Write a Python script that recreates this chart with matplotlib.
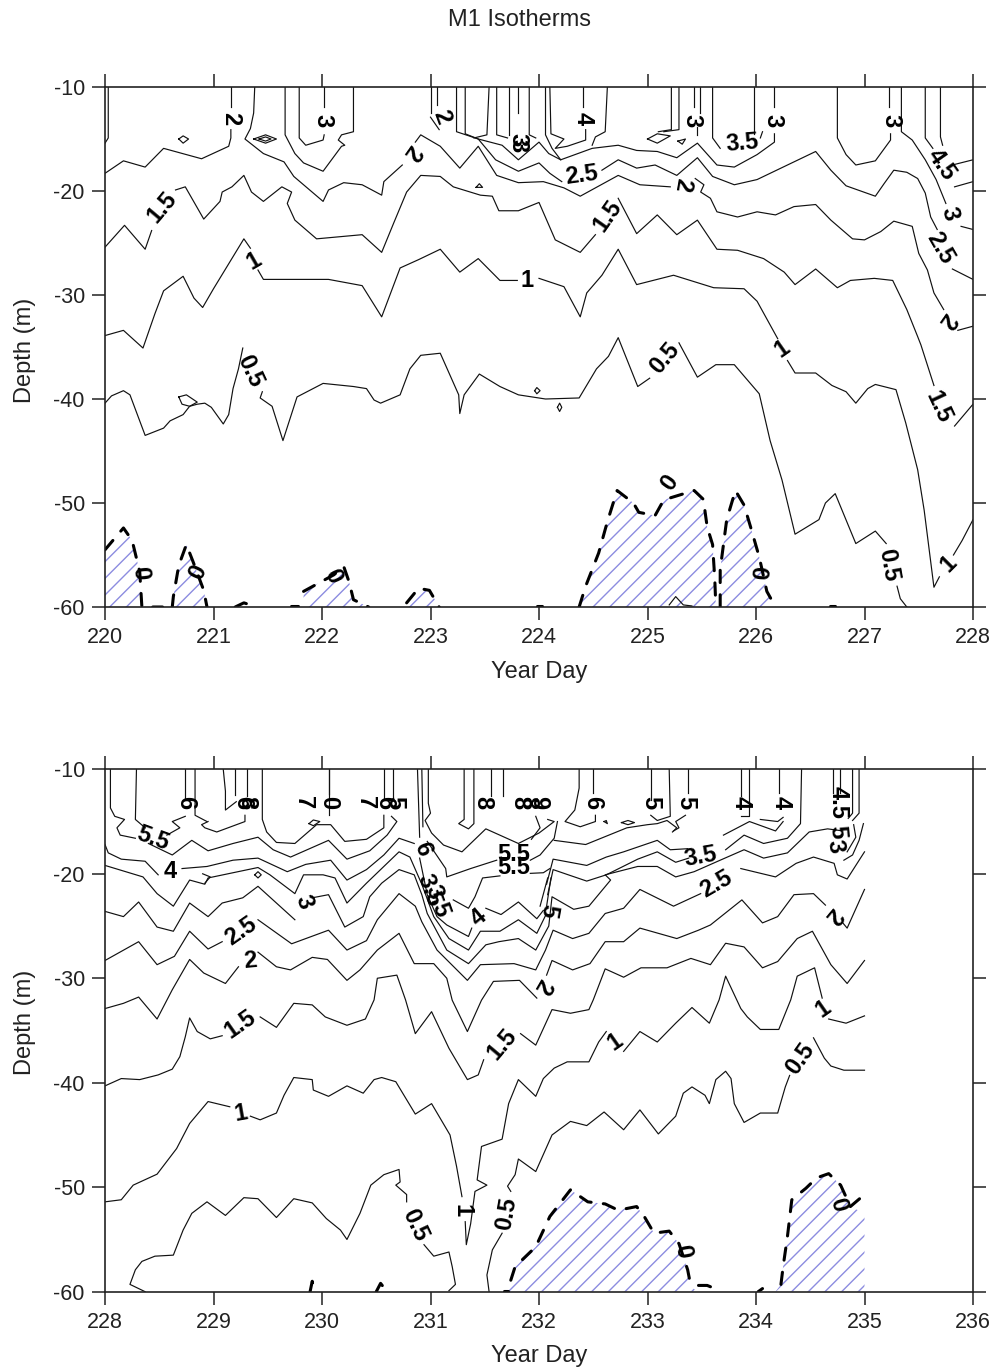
import matplotlib
matplotlib.use('Agg')
import matplotlib.pyplot as plt

plt.rcParams['font.family'] = ['Liberation Sans', 'DejaVu Sans']
plt.rcParams['axes.unicode_minus'] = False

# isotherm pieces as (year day, depth)
top_lines = [
    # 0.5
    [(220,-40.4),(220.06,-39.7),(220.17,-39.2),(220.23,-39.6),(220.37,-43.5),(220.54,-42.8),(220.6,-42.1),(220.72,-41.5),(220.78,-40.7),(220.85,-40.5),(220.92,-40.4),(220.98,-40.8),(221.09,-42.4),(221.14,-41.5),(221.18,-39),(221.23,-37.1),(221.27,-35.1)],
    [(221.45,-39.3),(221.43,-39.9),(221.54,-40.7),(221.64,-44),(221.77,-39.8),(222.01,-38.5),(222.29,-38.8),(222.41,-39),(222.48,-40.1),(222.54,-40.4),(222.72,-39.6),(222.81,-37.1),(222.91,-35.8),(223.09,-35.6),(223.26,-39.6),(223.27,-41.4),(223.31,-39.6),(223.45,-37.6),(223.64,-38.8),(223.81,-39.6),(224.06,-40),(224.37,-39.9),(224.53,-37.1),(224.64,-35.9),(224.73,-34.1),(224.91,-38.8),(225.02,-38)],
    [(225.29,-34.6),(225.46,-37.9),(225.63,-36.7),(225.8,-36.7),(226.03,-39.5),(226.13,-44),(226.24,-47.8),(226.36,-53),(226.58,-51.6),(226.64,-50),(226.73,-49.1),(226.92,-53.9),(227.1,-52.7),(227.2,-53.9)],
    [(227.3,-58),(227.33,-59.2),(227.39,-60)],
    # 1
    [(220,-33.9),(220.17,-33.4),(220.35,-35.1),(220.46,-31.8),(220.54,-29.6),(220.72,-28.2),(220.82,-30.3),(220.9,-31.2),(221,-29.4),(221.28,-24.6),(221.34,-25.5)],
    [(221.41,-27.6),(221.46,-28.5),(221.74,-28.5),(222.06,-28.5),(222.37,-29.1),(222.55,-32.1),(222.72,-27.4),(222.89,-26.6),(223.09,-25.6),(223.27,-27.8),(223.44,-26.5),(223.64,-28.6),(223.8,-28.6)],
    [(224,-28.4),(224.23,-29.2),(224.38,-32.1),(224.44,-29.8),(224.58,-28.1),(224.73,-25.6),(224.9,-29),(225.24,-28.1),(225.61,-29.3),(225.89,-29.4),(226.01,-30.6),(226.2,-34.2)],
    [(226.29,-36.3),(226.36,-37.5),(226.55,-37.5),(226.7,-38.7),(226.83,-39.3),(226.92,-40.4),(227.03,-39),(227.1,-38.6),(227.29,-39.1),(227.38,-42.3),(227.49,-46.8),(227.55,-50.7),(227.64,-58.1),(227.69,-57.1)],
    [(227.82,-55),(227.9,-53.6),(228,-51.6)],
    # 1.5
    [(220,-25.4),(220.18,-23.3),(220.37,-25.6),(220.43,-23.8)],
    [(220.65,-19.9),(220.74,-19.6),(220.91,-22.7),(221.06,-21),(221.08,-20.1),(221.17,-19.6),(221.28,-18.5),(221.35,-20.1),(221.46,-21),(221.63,-19.6),(221.72,-20.1),(221.68,-21.2),(221.75,-22.8),(221.95,-24.6),(222.37,-24.2),(222.55,-25.9),(222.66,-23.1),(222.78,-20.1),(222.91,-18.5),(223.09,-18.6),(223.21,-19.6),(223.46,-20.4),(223.57,-20.5),(223.63,-21.9),(223.81,-21.9),(224,-21.1),(224.15,-24.7),(224.38,-25.9),(224.52,-24.2)],
    [(224.73,-20.7),(224.9,-24.1),(225.09,-22.3),(225.27,-24.2),(225.46,-22.8),(225.64,-25.6),(225.83,-25.7),(226.07,-26.5),(226.26,-27.8),(226.36,-29),(226.55,-27.5),(226.75,-29.3),(226.87,-28.6),(227.09,-28.4),(227.26,-28.6),(227.39,-31.4),(227.49,-34),(227.52,-34.8),(227.64,-38.7)],
    [(227.83,-42.6),(228,-40.5)],
    # 2
    [(220,-18.3),(220.17,-17.1),(220.37,-17.7),(220.54,-15.9),(220.89,-16.9),(221.14,-15.7),(221.16,-14.9),(221.16,-14.1)],
    [(221.16,-11.9),(221.16,-10)],
    [(221.38,-10),(221.37,-12.5),(221.34,-14),(221.29,-15),(221.46,-16.4),(221.65,-17.2),(221.74,-18.6),(222.01,-21),(222.06,-19.9),(222.2,-19.2),(222.37,-19.4),(222.55,-20.4),(222.57,-19.1),(222.74,-17.5)],
    [(222.86,-15.3),(222.91,-14.6),(223.09,-15.7),(223.27,-17.8),(223.44,-15.7),(223.61,-18.5),(223.81,-19.2),(224.04,-19.1),(224.23,-19.7),(224.38,-20.5),(224.73,-18.5),(224.93,-19.4),(225.21,-19.6)],
    [(225.44,-18.8),(225.52,-19.4),(225.49,-20.1),(225.58,-20.7),(225.64,-22),(225.83,-22.5),(226.01,-22),(226.18,-22.3),(226.35,-21.5),(226.55,-21.3),(226.69,-22.8),(226.89,-24.6),(227,-24.7),(227.15,-23.9),(227.27,-22.9),(227.44,-23.4),(227.5,-26),(227.58,-27.6),(227.64,-29.8),(227.73,-31.4)],
    [(227.86,-33.4),(228,-33)],
    # 2.5
    [(221.66,-10),(221.66,-14.6),(221.75,-16.4),(221.83,-17.3),(222.01,-18.1),(222.18,-15.7),(222.21,-15.6),(222.15,-15.1),(222.18,-14.6),(222.29,-14.3),(222.29,-10)],
    [(223.24,-10),(223.24,-14.3),(223.44,-15),(223.6,-17),(223.81,-18.1),(224,-17.3),(224.1,-18.3),(224.21,-19.1)],
    [(224.58,-18),(224.73,-17),(224.9,-17.8),(225.07,-17.5),(225.27,-18.5),(225.46,-16.8),(225.6,-18.6),(225.8,-19.4),(226.01,-18.9),(226.23,-17.8),(226.55,-16.2),(226.69,-18),(226.83,-19.5),(227.1,-20.5),(227.18,-19.3),(227.27,-18),(227.39,-18.2),(227.49,-18.8),(227.56,-20.2),(227.61,-22.5),(227.67,-23.7)],
    [(227.81,-27.5),(228,-28.5)],
    # 3
    [(221.79,-10),(221.79,-14.9),(221.85,-15.6),(222.01,-15.1),(222.02,-14.6)],
    [(222.02,-11.9),(222.02,-10)],
    [(223.32,-10),(223.32,-14.5),(223.44,-15),(223.66,-15.6),(223.81,-17),(224,-15.3),(224.09,-16.4),(224.2,-17),(224.49,-15.9),(224.73,-15.6),(224.9,-16.1),(225.09,-16.2),(225.27,-16.8),(225.46,-15.4),(225.64,-17.5),(225.8,-17.7),(226.01,-16.5),(226.17,-15.3),(226.17,-14.5)],
    [(226.17,-11.9),(226.17,-10)],
    [(226.75,-10),(226.75,-14.9),(226.83,-16.5),(226.92,-17.5),(227.1,-17.1),(227.24,-15.1),(227.24,-14.5)],
    [(227.23,-11.9),(227.23,-10)],
    [(227.34,-10),(227.34,-14.3),(227.44,-15.1),(227.56,-17),(227.66,-18.9),(227.75,-21.2)],
    [(227.89,-23.4),(228,-23.7)],
    # upper pieces without a whole path
    [(220.03,-10),(220.03,-14.9),(220,-15.4)],
    [(223,-10),(223,-12.5)],
    [(223.06,-10),(223.06,-11.7)],
    [(223,-12.9),(223.08,-14.1)],
    [(223.54,-10),(223.52,-14.6),(223.4,-14.9)],
    [(223.61,-10),(223.61,-14.6),(223.71,-14.9)],
    [(223.72,-10),(223.72,-14.6)],
    [(223.81,-10),(223.81,-12.5)],
    [(223.91,-10),(223.91,-14.6),(223.97,-14.9)],
    [(224.06,-10),(224.06,-14.6),(224.12,-15.9),(224.2,-17)],
    [(224.1,-10),(224.11,-14.5),(224.23,-15),(224.15,-15.9),(224.26,-15.7),(224.43,-15.1),(224.43,-14.1)],
    [(224.41,-11.9),(224.41,-10)],
    [(224.63,-10),(224.61,-14.3),(224.52,-14.8),(224.49,-15.6)],
    [(225.22,-10),(225.22,-14.1),(225.1,-14.3)],
    [(225.29,-10),(225.29,-14.1),(225.15,-14.3)],
    [(225.43,-10),(225.43,-11.9)],
    [(225.48,-10),(225.48,-12.5)],
    [(225.46,-13.8),(225.46,-14.6)],
    [(225.6,-10),(225.6,-14.9),(225.67,-15.9)],
    [(225.98,-10),(225.98,-14.5)],
    [(226.04,-14.9),(226.06,-14.3)],
    [(227.56,-10),(227.56,-14.9),(227.63,-15.9)],
    [(227.7,-10),(227.7,-14.8),(227.72,-15.6)],
    [(227.81,-17.5),(228,-17)],
    [(227.83,-19.6),(228,-19.1)],
]

top_loops = [
    [(220.68,-39.8),(220.75,-39.6),(220.85,-40.3),(220.78,-40.7),(220.71,-40.5),(220.68,-39.8)],
    [(220.68,-15),(220.72,-14.7),(220.77,-15),(220.72,-15.4),(220.68,-15)],
    [(221.37,-15),(221.48,-14.6),(221.58,-15),(221.48,-15.4),(221.37,-15)],
    [(221.42,-15),(221.48,-14.8),(221.53,-15),(221.48,-15.2),(221.42,-15)],
    [(223.42,-19.65),(223.45,-19.3),(223.48,-19.65),(223.42,-19.65)],
    [(223.96,-39.2),(223.98,-38.9),(224.01,-39.2),(223.98,-39.5),(223.96,-39.2)],
    [(224.17,-40.8),(224.19,-40.4),(224.21,-40.8),(224.19,-41.2),(224.17,-40.8)],
    [(225,-15),(225.09,-14.5),(225.21,-14.7),(225.09,-15.4),(225,-15)],
    [(225.28,-15.2),(225.35,-15),(225.32,-15.5),(225.28,-15.2)],
    [(225.2,-59.8),(225.26,-59),(225.33,-59.8),(225.41,-59.9)],
]

top_zero_lines = [
    [(220,-54.5),(220.17,-52.4),(220.25,-53.6),(220.32,-56.6),(220.34,-60),(220.53,-60)],
    [(220.62,-60),(220.63,-59),(220.68,-56),(220.75,-54),(220.81,-55.6),(220.91,-58.4),(220.94,-60)],
    [(221.2,-60),(221.28,-59.6),(221.37,-59.9),(221.38,-60)],
    [(221.71,-59.9),(221.78,-59.9)],
    [(221.83,-58.5),(221.97,-57.7),(222.11,-56.9),(222.2,-56.1),(222.25,-57.6),(222.29,-59.3),(222.43,-60)],
    [(222.78,-59.6),(222.89,-58.2),(222.99,-58.4),(223.08,-60)],
    [(223.98,-59.9),(224.03,-59.9)],
    [(224.37,-60),(224.43,-58),(224.55,-54.8),(224.63,-51.8),(224.72,-48.8),(224.87,-50),(224.92,-50.9),(225.07,-51.2),(225.15,-49.7),(225.43,-48.8),(225.52,-49.7),(225.53,-50.8),(225.55,-52.3),(225.6,-54),(225.62,-57.3),(225.63,-60)],
    [(225.67,-60),(225.67,-56.4),(225.73,-51.6),(225.81,-48.8),(225.89,-50.2),(225.95,-52.3),(226.03,-55.2),(226.1,-58.5),(226.18,-60)],
    [(226.68,-59.9),(226.73,-59.9)],
]

top_cold_areas = [
    [(220,-60),(220,-54.5),(220.17,-52.4),(220.25,-53.6),(220.32,-56.6),(220.34,-60)],
    [(220.62,-60),(220.63,-59),(220.68,-56),(220.75,-54),(220.81,-55.6),(220.91,-58.4),(220.94,-60)],
    [(221.83,-60),(221.83,-58.5),(221.97,-57.7),(222.11,-56.9),(222.2,-56.1),(222.25,-57.6),(222.29,-59.3),(222.43,-60)],
    [(222.78,-60),(222.89,-58.2),(222.99,-58.4),(223.08,-60)],
    [(224.37,-60),(224.43,-58),(224.55,-54.8),(224.63,-51.8),(224.72,-48.8),(224.87,-50),(224.92,-50.9),(225.07,-51.2),(225.15,-49.7),(225.43,-48.8),(225.52,-49.7),(225.53,-50.8),(225.55,-52.3),(225.6,-54),(225.62,-57.3),(225.63,-60)],
    [(225.67,-60),(225.67,-56.4),(225.73,-51.6),(225.81,-48.8),(225.89,-50.2),(225.95,-52.3),(226.03,-55.2),(226.1,-58.5),(226.18,-60)],
]

# day, depth, text, rotation
top_labels = [
    (221.16,-13,'2',-90),(222.01,-13.2,'3',-90),(223.1,-12.9,'2',-70),(223.81,-15.1,'3',-90),(223.81,-15.6,'3',-90),
    (224.41,-13,'4',-90),(225.41,-13.2,'3',-90),(225.87,-15.4,'3.5',5),(226.16,-13.2,'3',-90),(227.24,-13.2,'3',-90),
    (227.71,-17.5,'4.5',-55),(227.78,-22.2,'3',-75),(227.7,-25.5,'2.5',-60),(227.76,-32.4,'2',-125),(227.68,-40.8,'1.5',-65),
    (227.77,-55.8,'1',45),(227.22,-56,'0.5',-80),(226.24,-35.2,'1',35),(225.16,-36.1,'0.5',50),(224.63,-22.4,'1.5',55),
    (225.32,-19.4,'2',-100),(224.39,-18.5,'2.5',8),(223.89,-28.6,'1',0),(222.83,-16.3,'2',-125),(220.53,-21.6,'1.5',50),
    (221.37,-26.7,'1',30),(221.34,-37.3,'0.5',-65),(220.32,-56.7,'0',-85),(220.86,-56.7,'0',65),(222.1,-57,'0',-65),
    (226.07,-56.7,'0',85),(225.2,-48.1,'0',55),
]

bottom_lines = [
    # 0.5
    [(228.37,-60),(228.23,-59.3),(228.28,-57.9),(228.34,-57.1),(228.46,-56.6),(228.63,-56.5),(228.72,-54.1),(228.8,-52.5),(228.94,-51.4),(229.11,-52.7),(229.28,-51),(229.41,-51.1),(229.58,-52.9),(229.74,-51.1),(229.91,-51.5),(230.04,-53),(230.17,-54.1),(230.23,-55),(230.35,-52.5),(230.45,-49.8),(230.57,-48.8),(230.71,-48.3),(230.72,-49.5),(230.68,-49.8),(230.78,-50.7),(230.78,-51.4)],
    [(230.94,-55.5),(231.03,-56.6),(231.17,-56.2),(231.2,-57.6),(231.23,-59.3),(231.17,-59.9)],
    [(231.54,-60),(231.52,-58.4),(231.57,-56),(231.66,-54.4)],
    [(231.74,-50.4),(231.71,-49.9),(231.78,-48.8),(231.81,-47.3),(231.97,-48.5),(232.12,-45),(232.29,-43.7),(232.44,-44.1),(232.6,-42.8),(232.78,-44.5),(232.93,-42.6),(233.1,-44.9),(233.26,-43.2),(233.33,-41),(233.41,-40.4),(233.53,-41.2),(233.57,-42),(233.63,-39.7),(233.72,-38.9),(233.77,-39.6),(233.8,-42),(233.89,-43.8),(234.04,-42.9),(234.2,-42.9),(234.27,-40.4),(234.31,-39.3)],
    [(234.53,-35.7),(234.63,-37.65),(234.69,-38.4),(234.81,-38.8),(235,-38.8)],
    # 1
    [(228,-51.4),(228.15,-51.2),(228.26,-49.8),(228.48,-48.75),(228.66,-46.3),(228.78,-43.9),(228.95,-41.8),(229.15,-42.3)],
    [(229.34,-43.2),(229.43,-43.55),(229.58,-42.9),(229.65,-41.2),(229.74,-39.5),(229.91,-39.7),(229.92,-40.7),(230.06,-41.3),(230.23,-40.3),(230.38,-41),(230.48,-39.7),(230.55,-39.5),(230.68,-39.9),(230.86,-43),(231.01,-42),(231.18,-45),(231.24,-48),(231.29,-50.9)],
    [(231.32,-53.3),(231.33,-55.5),(231.37,-53.5),(231.41,-50.4),(231.52,-49.8),(231.43,-49.3),(231.47,-46.1),(231.66,-45.4),(231.72,-42),(231.81,-39.7),(231.97,-41.3),(232.04,-39.6),(232.14,-38.6),(232.26,-38),(232.46,-38),(232.55,-36.1),(232.62,-35.1)],
    [(232.78,-37),(232.93,-35.1),(233.09,-36.1),(233.26,-34.3),(233.41,-32.8),(233.57,-34.3),(233.66,-32.07),(233.72,-29.8),(233.86,-32.9),(233.92,-33.7),(234.04,-34.9),(234.21,-34.9),(234.32,-32.07),(234.38,-29.8),(234.54,-29),(234.61,-31.9)],
    [(234.67,-33.9),(234.83,-34.3),(235,-33.6)],
    # 1.5
    [(228,-40.3),(228.15,-39.6),(228.32,-39.7),(228.49,-39.25),(228.62,-38.7),(228.69,-37.5),(228.74,-35.6),(228.78,-33.8),(228.85,-35.1),(228.97,-35.8),(229.08,-35.5)],
    [(229.43,-33.7),(229.58,-34.7),(229.74,-32.4),(229.91,-32.55),(230.03,-33.7),(230.23,-34.5),(230.4,-33.9),(230.48,-32.07),(230.51,-30),(230.69,-29.7),(230.77,-32.07),(230.86,-35.3),(231.01,-33.2),(231.17,-36.7),(231.34,-39.7),(231.44,-39.25),(231.49,-37.8)],
    [(231.83,-35.3),(231.97,-36.4),(232.12,-33),(232.29,-33.35),(232.46,-33),(232.5,-32.07),(232.61,-29.1),(232.78,-29.9),(232.94,-29),(233.18,-29),(233.4,-28.1),(233.58,-28.7),(233.72,-26.65),(233.89,-27),(234.06,-29),(234.2,-28.4),(234.38,-26.2),(234.52,-25.5),(234.69,-28.7),(234.84,-30.5),(235,-28.3)],
    # 2
    [(228,-32.9),(228.17,-32.4),(228.31,-31.8),(228.48,-33.9),(228.62,-31.1),(228.78,-28.2),(228.91,-29.5),(229.11,-30.5),(229.23,-28.9)],
    [(229.41,-27.5),(229.58,-28.9),(229.71,-29.2),(229.91,-28),(230.05,-28.2),(230.23,-30.2),(230.35,-29.2),(230.51,-27.3),(230.71,-25.7),(230.85,-28.6),(231.03,-28.6),(231.15,-30),(231.2,-32.1),(231.34,-35.1),(231.47,-32.1),(231.58,-30.3),(231.82,-30.2),(231.98,-31.9)],
    [(232.07,-29.7),(232.12,-28.3),(232.31,-29.2),(232.47,-28.6),(232.61,-26.5),(232.78,-26.5),(232.93,-25.2),(233.27,-26.2),(233.47,-25.4),(233.58,-24.9),(233.87,-22.5),(234.06,-24.7),(234.2,-24.1),(234.35,-22),(234.53,-21.9),(234.64,-23)],
    [(234.8,-24.7),(234.84,-25.2),(235,-21.5)],
    # 2.5
    [(228,-28.3),(228.31,-26.5),(228.48,-28.7),(228.64,-27.9),(228.78,-25.5),(228.95,-27.2),(229.08,-26.5)],
    [(229.41,-24.4),(229.72,-26.7),(230.06,-25.4),(230.23,-27.3),(230.41,-26.4),(230.51,-24.4),(230.71,-21.9),(230.86,-23.1),(230.92,-24.6),(231.06,-27.3),(231.34,-30.2),(231.46,-28.7),(231.77,-28.6),(231.97,-29.2),(232.06,-27.3),(232.13,-25.4),(232.31,-26.2),(232.46,-25.7),(232.61,-23.8),(232.78,-23.3),(232.93,-21.5),(233.24,-23.1),(233.49,-21.9)],
    [(233.86,-19.5),(234.18,-20.3),(234.37,-19),(234.53,-18.4),(234.72,-19),(234.75,-20.1),(234.84,-20.5),(235,-17.9)],
    # 3
    [(228,-23.6),(228.17,-24.1),(228.31,-22.7),(228.48,-25.1),(228.63,-25.5),(228.78,-22.8),(228.95,-24.1),(229.08,-22.8),(229.27,-22.3),(229.41,-21.2),(229.58,-22.8),(229.75,-24.4)],
    [(229.91,-22.3),(230.06,-22),(230.21,-25.1),(230.38,-24.1),(230.44,-22.2),(230.55,-20.9),(230.71,-19.6),(230.85,-20.1),(230.92,-22),(230.97,-23.8),(231.15,-27.3),(231.35,-28.6),(231.51,-26.8),(231.63,-26.5),(231.81,-26.2),(231.97,-27.3),(232.09,-25),(232.12,-22.2),(232.32,-23.4),(232.46,-23.1),(232.66,-20.6),(232.61,-20.1),(232.91,-19.3),(233.09,-19.3),(233.26,-20.3),(233.43,-19.8),(233.67,-18.7),(233.89,-17.7),(234.07,-18.5),(234.29,-18),(234.49,-16),(234.66,-15.7),(234.8,-15.9)],
    # 3.5 and 4
    [(228,-19.2),(228.35,-20.3),(228.48,-21.9),(228.63,-23.1),(228.78,-20.6),(228.92,-21),(228.95,-20.4),(229.18,-19.9),(229.41,-19.4),(229.52,-20.1),(229.75,-21.9),(229.83,-20.1),(230.01,-20.1),(230.12,-20.4),(230.23,-22.8),(230.41,-20.9),(230.57,-19.3),(230.71,-17.9),(230.81,-18.4),(230.92,-21),(231.03,-24.1),(231.17,-26.2),(231.35,-27.3),(231.46,-25.5),(231.64,-25.5),(231.81,-24.4),(231.98,-25.7),(232.06,-24)],
    [(232.08,-22),(232.13,-19.6),(232.27,-20.1),(232.44,-20.7),(232.62,-20.1),(232.91,-18.6),(233.09,-17.9),(233.26,-18.9),(233.38,-18.5)],
    [(233.72,-17.7),(233.89,-16.3),(234.07,-17.1),(234.29,-16.6),(234.41,-15.2),(234.42,-10)],
    [(228,-17.2),(228.03,-18),(228.15,-18.6),(228.37,-18.8),(228.49,-20.1)],
    [(228.71,-19.5),(228.94,-19.3),(229.18,-18.7),(229.41,-18.5),(229.68,-19.8),(229.85,-19.1),(230.08,-18.7),(230.23,-20.6),(230.41,-19.6),(230.57,-18.2),(230.71,-16.6),(230.85,-17.1)],
    [(230.9,-18.5),(230.97,-22),(231.06,-24.1),(231.15,-24.9),(231.35,-26),(231.38,-25.2)],
    [(231.51,-23.3),(231.65,-23.9),(231.81,-22.7),(231.98,-24.3),(232.04,-23.5)],
    [(232.07,-21),(232.13,-18.6),(232.44,-19.2),(232.62,-18.4),(232.78,-17.9),(233.09,-16.8),(233.21,-17.7),(233.37,-17.6)],
    [(233.7,-16.3),(233.94,-15),(234.18,-15.9),(234.25,-15)],
    [(232.14,-16.8),(232.43,-17.2),(232.81,-15.6),(233,-15.3),(233.09,-15.2),(233.18,-14.9),(233.27,-15.6),(233.23,-16)],
    # 5 and above
    [(228.4,-17.1),(228.62,-18.2),(228.8,-16.8),(228.95,-17.8),(229.18,-17.1),(229.41,-16.5),(229.55,-17.7),(229.71,-18.4),(230.06,-16.8),(230.23,-18.6),(230.44,-17.8),(230.6,-16.3),(230.69,-15),(230.64,-14.5)],
    [(230.65,-12.8),(230.65,-10)],
    [(229.45,-10),(229.45,-14.8),(229.49,-16),(229.58,-17),(229.75,-17.1),(229.95,-15.3),(230.08,-15.3),(230.21,-16.9),(230.41,-16.7),(230.57,-15.6),(230.57,-14.4)],
    [(230.57,-12.8),(230.57,-10)],
    [(228.05,-10),(228.05,-13.7),(228.09,-14.5),(228.18,-14.8),(228.11,-15.6),(228.14,-16.3),(228.28,-16.6)],
    [(228.29,-10),(228.28,-14.8),(228.37,-15.6)],
    [(228.57,-16.3),(228.69,-15.6),(228.62,-15),(228.74,-14.5)],
    [(228.74,-10),(228.74,-12.8)],
    [(228.83,-10),(228.83,-14.4),(228.94,-15)],
    [(229.09,-10),(229.11,-12.1),(229.11,-13.9),(229.21,-13.1)],
    [(229.2,-10),(229.2,-12.5)],
    [(229.31,-10),(229.31,-12.6)],
    [(229.29,-14.4),(229.29,-15),(229.03,-16),(228.92,-15.6),(228.89,-15.3),(228.95,-15)],
    [(230.06,-10),(230.06,-14.4)],
    [(230.06,-10),(230.06,-12.4)],
    [(230.88,-10),(230.9,-16.5)],
    [(230.92,-10),(230.93,-15.5)],
    [(230.98,-10),(230.98,-13.25),(231,-14.2),(230.95,-14.9),(231.01,-16.1),(231.12,-17.25),(231.29,-17.9),(231.51,-15.7),(231.81,-17.1),(232,-16.1),(232.14,-15),(232.08,-14.8)],
    [(230.97,-16.9),(231.14,-19.5),(231.15,-20.3),(231.37,-19.5),(231.61,-18.7)],
    [(231.92,-18.7),(232.01,-18.2),(232.14,-16.6),(232.17,-15)],
    [(231.21,-22.5),(231.35,-23.3),(231.41,-22.2),(231.48,-20.4),(231.64,-20.2)],
    [(231.92,-19.96),(232.04,-19.9),(232.1,-19.5)],
    [(232.01,-23.1),(232.08,-20.4)],
    [(232.07,-23.1),(232.11,-20.4)],
    [(231.31,-10),(231.31,-14.8),(231.26,-15.2),(231.35,-15.7),(231.4,-15.2),(231.4,-10)],
    [(231.56,-10),(231.56,-12.6)],
    [(231.67,-10),(231.67,-12.6)],
    [(231.97,-14.5),(232.01,-15.6),(231.93,-16.7)],
    [(232.37,-10),(232.37,-11.8),(232.33,-13.9),(232.24,-15),(232.38,-15.5),(232.52,-15),(232.52,-14.4)],
    [(232.5,-12.3),(232.5,-10)],
    [(233.03,-10),(233.03,-12.9)],
    [(233.03,-14.4),(233.09,-14.9),(233.21,-14.5),(233.2,-10)],
    [(233.37,-10),(233.37,-12.3)],
    [(233.35,-14.4),(233.26,-15),(233.29,-15.6),(233.24,-15.9)],
    [(233.86,-10),(233.86,-12.6)],
    [(233.94,-10),(233.94,-14.5),(233.86,-14.5)],
    [(234.21,-10),(234.21,-12.3)],
    [(234.25,-14.6),(234.2,-15),(234.04,-14.8)],
    [(234.71,-10),(234.71,-12.3)],
    [(234.77,-10),(234.77,-12.3)],
    [(234.89,-10),(234.89,-14.2),(234.85,-14.7)],
    [(234.95,-10),(234.95,-14.2),(234.89,-14.9)],
    [(234.9,-15.3),(234.92,-16.5),(234.84,-17.9)],
    [(234.99,-15.2),(234.95,-16.8),(234.89,-18.2),(234.81,-18.7)],
]

bottom_loops = [
    [(229.88,-15.2),(229.92,-14.85),(229.98,-15),(229.92,-15.4),(229.88,-15.2)],
    [(229.38,-20.1),(229.41,-19.8),(229.44,-20.1),(229.41,-20.4),(229.38,-20.1)],
    [(228.9,-20),(228.97,-20.3),(228.92,-20.9)],
    [(232.76,-15.1),(232.82,-14.9),(232.88,-15.1),(232.82,-15.3),(232.76,-15.1)],
    [(232.6,-15),(232.62,-14.9),(232.63,-15.2),(232.6,-15)],
]

bottom_zero_lines = [
    [(231.74,-58.9),(231.78,-57.6),(231.97,-55.7),(232.1,-52.8),(232.29,-50.25),(232.45,-51.4),(232.61,-51.6),(232.73,-52.2),(232.9,-51.85),(232.97,-52.8),(233.06,-54.4),(233.2,-54.2),(233.29,-55.4),(233.37,-57.9),(233.4,-59.5)],
    [(233.47,-59.4),(233.55,-59.4),(233.67,-59.9)],
    [(234.02,-60),(234.06,-59.7)],
    [(234.23,-59.3),(234.25,-57.6),(234.29,-54.7),(234.33,-51.2),(234.46,-50.1),(234.56,-49.1),(234.67,-48.7),(234.78,-49.8),(234.87,-51.85),(235,-50.7)],
    # small closed marks on the bottom axis
    [(229.89,-60),(229.91,-59),(229.93,-60)],
    [(230.5,-60),(230.54,-59.2),(230.6,-60)],
    [(231.68,-59.9),(231.71,-59.9)],
]

bottom_cold_areas = [
    [(231.68,-60),(231.74,-58.9),(231.78,-57.6),(231.97,-55.7),(232.1,-52.8),(232.29,-50.25),(232.45,-51.4),(232.61,-51.6),(232.73,-52.2),(232.9,-51.85),(232.97,-52.8),(233.06,-54.4),(233.2,-54.2),(233.29,-55.4),(233.37,-57.9),(233.4,-59.5),(233.46,-60)],
    [(234.18,-60),(234.23,-59.3),(234.25,-57.6),(234.29,-54.7),(234.33,-51.2),(234.46,-50.1),(234.56,-49.1),(234.67,-48.7),(234.78,-49.8),(234.87,-51.85),(235,-52.5),(235,-60)],
]

bottom_labels = [
    (228.74,-13.2,'6',-90),(229.31,-13.2,'8',-90),(229.27,-13.2,'6',-90),(229.83,-13.2,'7',-90),(230.06,-13.2,'0',-90),
    (230.4,-13.2,'7',-90),(230.58,-13.2,'6',-90),(230.67,-13.2,'5',-90),(231.48,-13.2,'8',-90),(231.82,-13.2,'8',-90),
    (231.9,-13.2,'8',-90),(232,-13.2,'9',-90),(232.49,-13.2,'6',-90),(233.03,-13.2,'5',-90),(233.35,-13.2,'5',-90),
    (233.86,-13.2,'4',-90),(234.23,-13.2,'4',-90),(234.76,-13.2,'4.5',-90),(234.75,-16,'5',-85),(234.73,-17.4,'3',-80),
    (228.44,-16.6,'5.5',-20),(228.6,-19.8,'4',0),(229.83,-22.7,'3',-70),(229.25,-25.5,'2.5',35),(229.34,-28.3,'2',5),
    (229.25,-34.4,'1.5',35),(229.25,-42.9,'1',10),(230.86,-53.6,'0.5',-65),(231.29,-52.2,'1',-90),(231.7,-52.5,'0.5',80),
    (231.66,-36.3,'1.5',50),(232.7,-36.1,'1',35),(234.41,-37.7,'0.5',55),(234.62,-32.9,'1',35),(234.71,-24,'2',-130),
    (233.63,-21,'2.5',30),(233.49,-18.4,'3.5',10),(232.09,-23.5,'5',-100),(232.03,-30.7,'2',-120),(231.44,-24.2,'4',40),
    (231.77,-18.2,'5.5',0),(231.77,-19.4,'5.5',0),(230.93,-17.6,'6',-70),(230.99,-21.6,'3.5',-70),(231.06,-22.6,'3.5',-70),
    (233.32,-56.1,'0',-80),(234.76,-51.7,'0',-75),
]

title = 'M1 Isotherms'
x_label = 'Year Day'
y_label = 'Depth (m)'
depth_ticks = [-60, -50, -40, -30, -20, -10]
top_days = list(range(220, 229))
bottom_days = list(range(228, 237))

W, H = 995, 1369
fig = plt.figure(figsize=(W / 100, H / 100), dpi=100)
ax1 = fig.add_axes([105 / W, 1 - 607 / H, 868 / W, 520 / H])
ax2 = fig.add_axes([105 / W, 1 - 1291.7 / H, 868 / W, 522.4 / H])


def draw(ax, days, lines, loops, zero_lines, areas, labels):
    for area in areas:
        ax.fill([p[0] for p in area], [p[1] for p in area], facecolor='none',
                edgecolor='#8c8ce0', hatch='//', linewidth=0, zorder=1)
    for seg in lines + loops:
        ax.plot([p[0] for p in seg], [p[1] for p in seg], color='#111111', lw=0.85, zorder=2)
    for seg in zero_lines:
        ax.plot([p[0] for p in seg], [p[1] for p in seg], color='black', lw=2.2,
                ls=(0, (4, 4)), zorder=2, dash_capstyle='round')
    for d, z, s, rot in labels:
        ax.text(d, z, s, rotation=rot, ha='center', va='center', fontsize=17,
                fontweight='bold', color='black', zorder=3, rotation_mode='anchor')
    ax.set_xlim(days[0], days[-1])
    ax.set_ylim(-60, -10)
    ax.set_xticks(days)
    ax.set_yticks(depth_ticks)
    ax.tick_params(direction='out', length=9.5, width=1.1, top=True, right=True,
                   labelsize=15.5, pad=5, color='#222222', labelcolor='#222222')
    for s in ax.spines.values():
        s.set_linewidth(1.2)
        s.set_color('#222222')
    ax.set_xlabel(x_label, fontsize=17, labelpad=9, color='#222222')


draw(ax1, top_days, top_lines, top_loops, top_zero_lines, top_cold_areas, top_labels)
draw(ax2, bottom_days, bottom_lines, bottom_loops, bottom_zero_lines, bottom_cold_areas, bottom_labels)

fig.text(520 / W, 1 - 20 / H, title, ha='center', va='center', fontsize=17, color='#222222')
fig.text(25 / W, 1 - 350 / H, y_label, rotation=90, ha='center', va='center', fontsize=17, color='#222222')
fig.text(25 / W, 1 - 1022 / H, y_label, rotation=90, ha='center', va='center', fontsize=17, color='#222222')

fig.savefig('out.png', dpi=100)
